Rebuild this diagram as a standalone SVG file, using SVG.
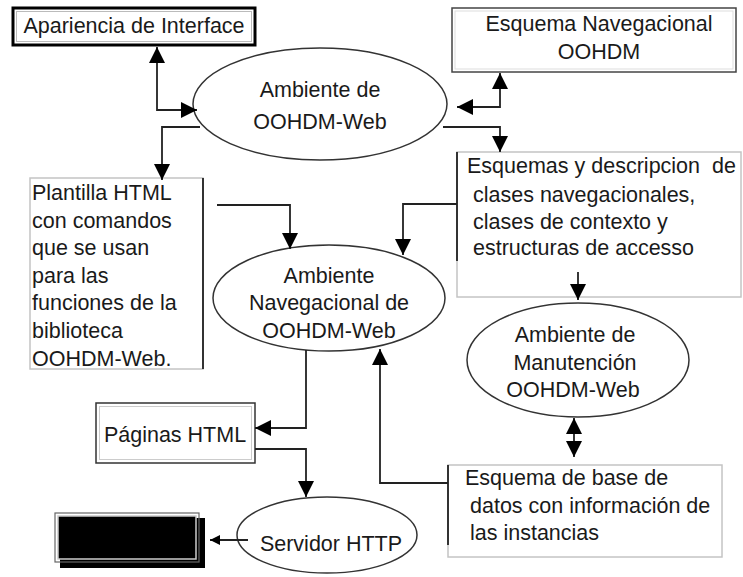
<svg xmlns="http://www.w3.org/2000/svg" width="743" height="577" viewBox="0 0 743 577">
<defs>
<style>
text{font-family:"Liberation Sans",Arial,sans-serif;font-size:21.5px;fill:#1a1a1a}
.c{text-anchor:middle}
.ell{fill:#fff;stroke:#333;stroke-width:1.5}
.lbox{fill:#fff;stroke:#c4c4c4;stroke-width:1.5}
.dk{stroke:#333;stroke-width:2;fill:none}
.con{fill:none;stroke:#222;stroke-width:1.8}
</style>
<marker id="ah" viewBox="0 0 10 10" refX="10" refY="5" markerWidth="18" markerHeight="16" markerUnits="userSpaceOnUse" orient="auto-start-reverse"><path d="M0,0L10,5L0,10z" fill="#000"/></marker>
<marker id="sm" viewBox="0 0 10 10" refX="10" refY="5" markerWidth="12" markerHeight="10" markerUnits="userSpaceOnUse" orient="auto"><path d="M0,0L10,5L0,10z" fill="#000"/></marker>
</defs>
<rect width="743" height="577" fill="#fff"/>

<g id="apariencia">
<rect x="13" y="8" width="242" height="37" fill="#fff" stroke="#000" stroke-width="3"/>
<rect x="16.5" y="11.5" width="235" height="30" fill="none" stroke="#bbb" stroke-width="1"/>
<text class="c" x="134" y="33">Apariencia de Interface</text>
</g>

<g id="ambiente">
<ellipse class="ell" cx="320" cy="104" rx="127" ry="56"/>
<text class="c" x="320" y="97">Ambiente de</text>
<text class="c" x="320" y="129">OOHDM-Web</text>
</g>

<g id="esquema-nav">
<rect x="452" y="8" width="284" height="64" fill="#fff" stroke="#444" stroke-width="1.5"/>
<rect x="455" y="11" width="278" height="58" fill="none" stroke="#ddd" stroke-width="1"/>
<text class="c" x="599" y="31">Esquema Navegacional</text>
<text class="c" x="599" y="59">OOHDM</text>
</g>

<g id="esquemas">
<rect class="lbox" x="457" y="152" width="284" height="145"/>
<line class="dk" x1="457" y1="152" x2="457" y2="261"/>
<text x="467" y="173" xml:space="preserve">Esquemas y descripcion  de</text>
<text x="473" y="202">clases navegacionales,</text>
<text x="473" y="229">clases de contexto y</text>
<text x="473" y="255">estructuras de accesso</text>
</g>

<g id="plantilla">
<rect class="lbox" x="30" y="178" width="173" height="191"/>
<line class="dk" x1="203" y1="178" x2="203" y2="369"/>
<text x="32" y="200">Plantilla HTML</text>
<text x="32" y="228">con comandos</text>
<text x="32" y="255">que se usan</text>
<text x="32" y="283">para las</text>
<text x="32" y="310">funciones de la</text>
<text x="32" y="338">biblioteca</text>
<text x="32" y="366">OOHDM-Web.</text>
</g>

<g id="navegacional">
<ellipse class="ell" cx="329" cy="298" rx="116" ry="53"/>
<text class="c" x="329" y="283">Ambiente</text>
<text class="c" x="329" y="310">Navegacional de</text>
<text class="c" x="329" y="338">OOHDM-Web</text>
</g>

<g id="manutencion">
<ellipse class="ell" cx="578" cy="360" rx="111" ry="57"/>
<text class="c" x="575" y="342">Ambiente de</text>
<text class="c" x="575" y="370">Manutención</text>
<text class="c" x="573" y="397">OOHDM-Web</text>
</g>

<g id="base-datos">
<rect class="lbox" x="448" y="465" width="274" height="92"/>
<line class="dk" x1="448" y1="465" x2="448" y2="545"/>
<text x="465" y="485">Esquema de base de</text>
<text x="470" y="513">datos con información de</text>
<text x="470" y="540">las instancias</text>
</g>

<g id="paginas">
<rect x="96" y="403" width="159" height="60" fill="#fff" stroke="#333" stroke-width="1.5"/>
<rect x="99.5" y="406.5" width="152" height="53" fill="none" stroke="#ccc" stroke-width="1"/>
<text class="c" x="175" y="442">Páginas HTML</text>
</g>

<g id="servidor">
<ellipse class="ell" cx="327" cy="535" rx="90" ry="38"/>
<text class="c" x="331" y="551">Servidor HTTP</text>
</g>

<g id="cliente">
<rect x="60" y="518" width="145" height="50" fill="#000"/>
<rect x="55" y="513" width="144" height="49" fill="none" stroke="#666" stroke-width="1.2"/>
<rect x="58" y="516" width="138" height="43" fill="#000" stroke="#ccc" stroke-width="1.5"/>
</g>

<g id="connectors">
<path class="con" d="M157,47V110H197" marker-start="url(#ah)" marker-end="url(#ah)"/>
<path class="con" d="M200,127H162V180" marker-end="url(#ah)"/>
<path class="con" d="M500,73V107H457" marker-start="url(#ah)" marker-end="url(#ah)"/>
<path class="con" d="M443,127H500V152" marker-end="url(#ah)"/>
<path class="con" d="M217,205H290V249" marker-end="url(#ah)"/>
<path class="con" d="M457,204H403V255" marker-end="url(#ah)"/>
<path class="con" d="M578,272V300" marker-end="url(#ah)"/>
<path class="con" d="M574,418V457" marker-start="url(#ah)" marker-end="url(#ah)"/>
<path class="con" d="M448,483H380V349" marker-end="url(#ah)"/>
<path class="con" d="M306,350V428H255" marker-end="url(#ah)"/>
<path class="con" d="M255,449H306V497" marker-end="url(#ah)"/>
<path class="con" d="M248,540H210" marker-end="url(#sm)"/>
</g>

<text x="722" y="590" style="font-size:18px;font-weight:bold;fill:#2a6db5">GP</text>
</svg>
